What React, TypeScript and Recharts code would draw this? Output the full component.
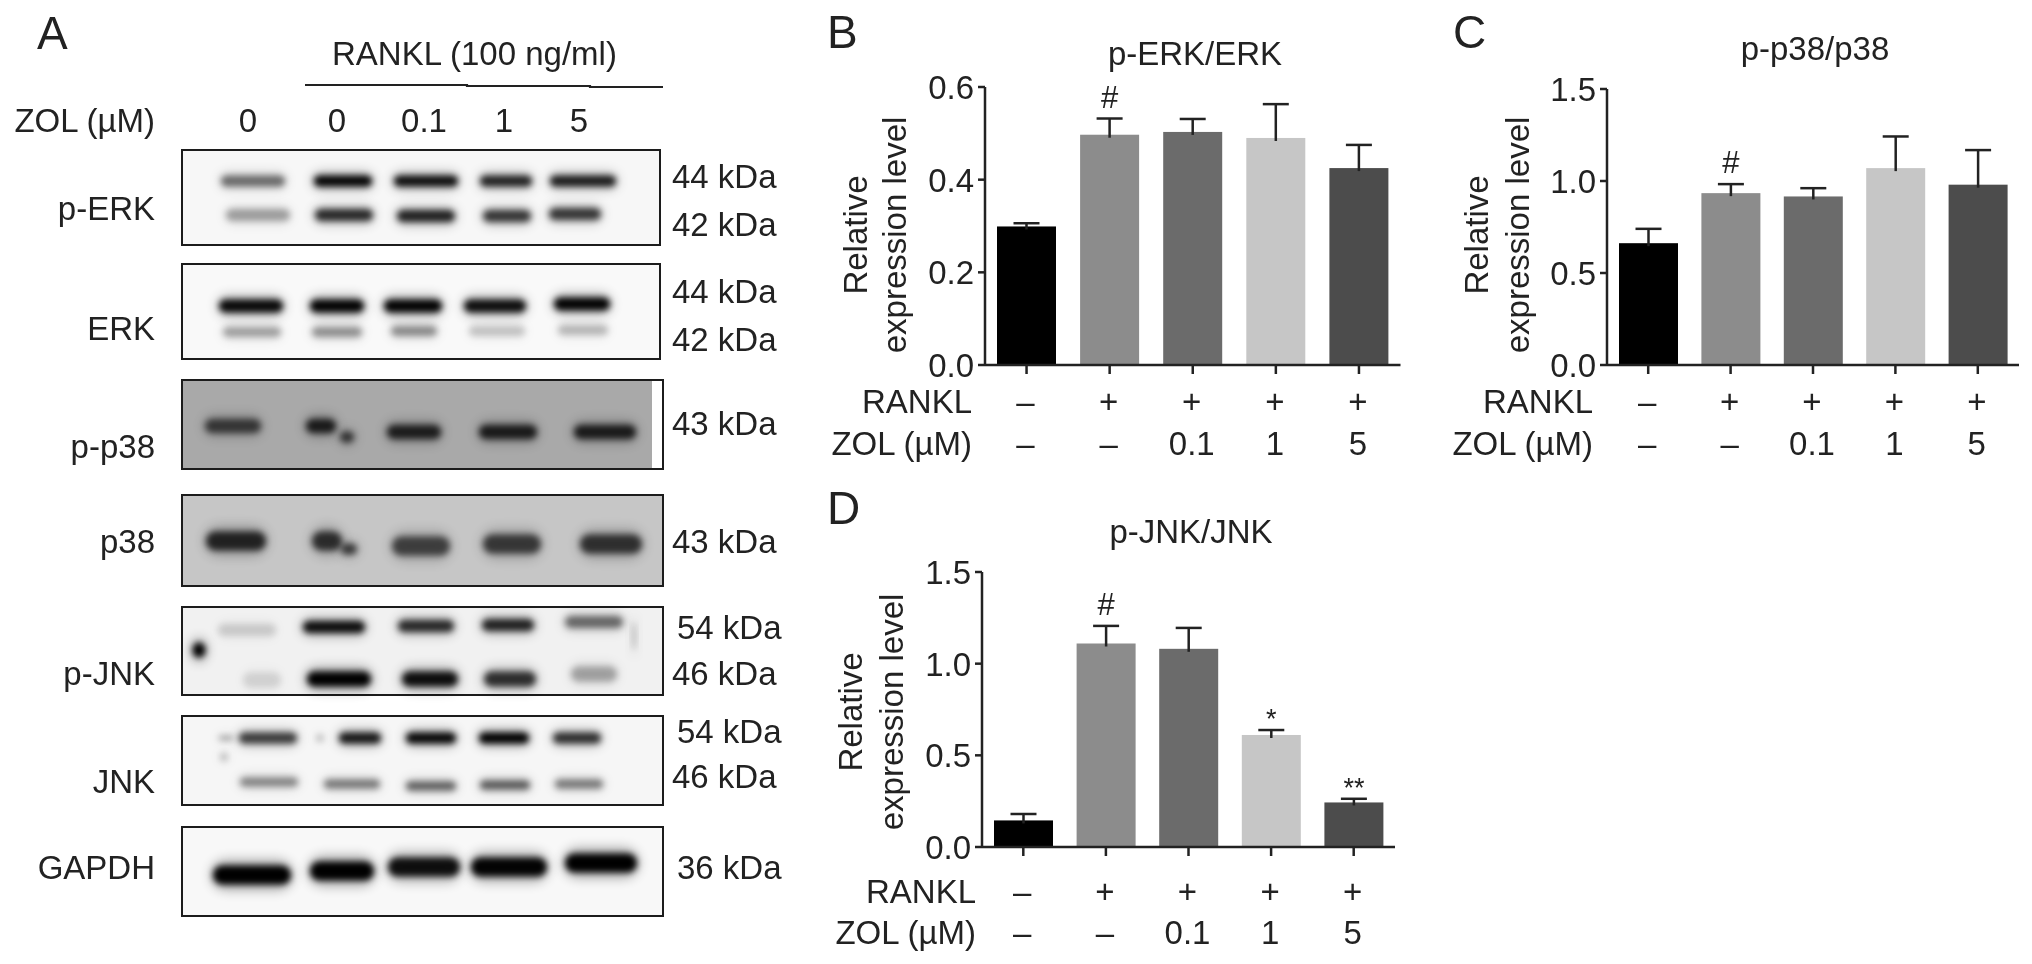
import { BarChart, Bar, XAxis, YAxis, ScatterChart, Scatter } from 'recharts';

const FONT = '"Liberation Sans", Arial, sans-serif';
const INK = '#222222';

// bar charts
const groups = ['Control', 'RANKL', 'ZOL 0.1', 'ZOL 1', 'ZOL 5'];
const ranklRow = ['–', '+', '+', '+', '+'];
const zolRow = ['–', '–', '0.1', '1', '5'];
const barColors = ['#000000', '#8c8c8c', '#6b6b6b', '#c6c6c6', '#4c4c4c'];

const erkMeans = [0.299, 0.497, 0.503, 0.49, 0.425];
const erkErrors = [0.007, 0.035, 0.028, 0.073, 0.05];
const erkMarks = ['', '#', '', '', ''];
const erkTicks = [0, 0.2, 0.4, 0.6];

const p38Means = [0.662, 0.934, 0.916, 1.07, 0.98];
const p38Errors = [0.078, 0.049, 0.045, 0.172, 0.188];
const p38Marks = ['', '#', '', '', ''];
const p38Ticks = [0, 0.5, 1, 1.5];

const jnkMeans = [0.145, 1.11, 1.081, 0.611, 0.243];
const jnkErrors = [0.035, 0.096, 0.114, 0.027, 0.02];
const jnkMarks = ['', '#', '', '*', '**'];
const jnkTicks = [0, 0.5, 1, 1.5];

// blot band densities, one per lane
const pErk44 = [0.5, 0.98, 0.92, 0.82, 0.85];
const pErk42 = [0.3, 0.78, 0.82, 0.72, 0.72];
const erk44 = [0.95, 0.98, 0.98, 0.92, 0.98];
const erk42 = [0.3, 0.36, 0.38, 0.18, 0.22];
const pP38 = [0.62, 0.8, 0.78, 0.8, 0.8];
const p38 = [0.78, 0.72, 0.62, 0.66, 0.7];
const pJnk54 = [0.13, 0.92, 0.78, 0.82, 0.5];
const pJnk46 = [0.1, 1, 0.92, 0.76, 0.28];
const jnk54 = [0.7, 0.88, 0.96, 1, 0.76];
const jnk46 = [0.4, 0.45, 0.55, 0.58, 0.45];
const gapdh = [1, 1, 0.92, 0.98, 1];

const bandRows = [
  { values: pErk44, xs: [253, 343, 426, 506, 583], ys: [181, 181, 181, 181, 181], ws: [64, 58, 64, 52, 66], h: 11 },
  { values: pErk42, xs: [258, 344, 426, 507, 575], ys: [215, 215, 216, 216, 214], ws: [64, 58, 58, 48, 52], h: 12 },
  { values: erk44, xs: [251, 337, 413, 495, 582], ys: [306, 306, 306, 306, 304], ws: [64, 54, 58, 62, 56], h: 13 },
  { values: erk42, xs: [252, 337, 414, 497, 583], ys: [332, 332, 331, 331, 330], ws: [58, 50, 46, 56, 50], h: 10 },
  { values: pP38, xs: [233, 321, 414, 508, 605], ys: [426, 426, 432, 432, 432], ws: [56, 30, 54, 58, 62], h: 14 },
  { values: p38, xs: [236, 327, 421, 512, 611], ys: [541, 541, 546, 544, 544], ws: [60, 30, 58, 58, 62], h: 19 },
  { values: pJnk54, xs: [247, 334, 426, 508, 594], ys: [630, 627, 626, 625, 622], ws: [58, 62, 56, 52, 58], h: 12 },
  { values: pJnk46, xs: [262, 339, 430, 510, 594], ys: [680, 679, 679, 679, 674], ws: [38, 64, 56, 52, 46], h: 15 },
  { values: jnk54, xs: [268, 360, 431, 504, 577], ys: [738, 738, 738, 738, 738], ws: [58, 42, 50, 50, 48], h: 11 },
  { values: jnk46, xs: [269, 352, 431, 505, 579], ys: [782, 784, 786, 785, 784], ws: [58, 56, 50, 50, 48], h: 9 },
  { values: gapdh, xs: [252, 342, 424, 509, 601], ys: [875, 871, 867, 867, 863], ws: [78, 64, 72, 76, 72], h: 19 },
];

// smaller spots beside the main bands
const extraSpots = [
  { x: 347, y: 437, w: 14, h: 11, d: 0.65 },
  { x: 349, y: 549, w: 16, h: 11, d: 0.65 },
  { x: 199, y: 650, w: 13, h: 15, d: 1 },
  { x: 634, y: 636, w: 4, h: 28, d: 0.2 },
  { x: 320, y: 738, w: 7, h: 7, d: 0.22 },
  { x: 224, y: 757, w: 7, h: 8, d: 0.22 },
  { x: 226, y: 738, w: 14, h: 4, d: 0.35 },
];

const blotBands = [
  ...bandRows.flatMap((r) =>
    r.values.map((d, i) => ({ x: r.xs[i], y: r.ys[i], w: r.ws[i], h: r.h, d })),
  ),
  ...extraSpots,
];

const blotFrames = [
  { top: 149, h: 97, w: 480, bg: '#f7f7f7' },
  { top: 263, h: 97, w: 480, bg: '#f9f9f9' },
  { top: 379, h: 91, w: 483, bg: 'linear-gradient(to right, #a9a9a9 0 98%, #ffffff 98% 100%)' },
  { top: 494, h: 93, w: 483, bg: '#c6c6c6' },
  { top: 606, h: 90, w: 483, bg: '#f1f1f1' },
  { top: 715, h: 91, w: 483, bg: '#f6f6f6' },
  { top: 826, h: 91, w: 483, bg: '#f8f8f8' },
];

const pageTexts = [
  { t: 'A', x: 37, y: 49, s: 46 },
  { t: 'B', x: 827, y: 48, s: 46 },
  { t: 'C', x: 1453, y: 48, s: 46 },
  { t: 'D', x: 827, y: 524, s: 46 },
  { t: 'RANKL (100 ng/ml)', x: 332, y: 65 },
  { t: 'ZOL (µM)', x: 155, y: 132, a: 'end' },
  { t: '0', x: 248, y: 132, a: 'middle' },
  { t: '0', x: 337, y: 132, a: 'middle' },
  { t: '0.1', x: 424, y: 132, a: 'middle' },
  { t: '1', x: 504, y: 132, a: 'middle' },
  { t: '5', x: 579, y: 132, a: 'middle' },
  { t: 'p-ERK', x: 155, y: 220, a: 'end' },
  { t: 'ERK', x: 155, y: 340, a: 'end' },
  { t: 'p-p38', x: 155, y: 458, a: 'end' },
  { t: 'p38', x: 155, y: 553, a: 'end' },
  { t: 'p-JNK', x: 155, y: 685, a: 'end' },
  { t: 'JNK', x: 155, y: 793, a: 'end' },
  { t: 'GAPDH', x: 155, y: 879, a: 'end' },
  { t: '44 kDa', x: 672, y: 188 },
  { t: '42 kDa', x: 672, y: 236 },
  { t: '44 kDa', x: 672, y: 303 },
  { t: '42 kDa', x: 672, y: 351 },
  { t: '43 kDa', x: 672, y: 435 },
  { t: '43 kDa', x: 672, y: 553 },
  { t: '54 kDa', x: 677, y: 639 },
  { t: '46 kDa', x: 672, y: 685 },
  { t: '54 kDa', x: 677, y: 743 },
  { t: '46 kDa', x: 672, y: 788 },
  { t: '36 kDa', x: 677, y: 879 },
];

function BandShape({ cx, cy, payload }: any) {
  const { w, h, d } = payload;
  return (
    <g>
      <rect
        x={cx - w / 2 - 2}
        y={cy - h * 0.8}
        width={w + 4}
        height={h * 1.6}
        rx={h * 0.8}
        fill="#000"
        opacity={d * 0.3}
        filter="url(#haloBlur)"
      />
      <rect
        x={cx - w / 2}
        y={cy - h / 2}
        width={w}
        height={h}
        rx={h / 2}
        fill="#000"
        opacity={d}
        filter="url(#bandBlur)"
      />
    </g>
  );
}

function BlotPanel() {
  return (
    <>
      {blotFrames.map((f, i) => (
        <div
          key={i}
          style={{
            position: 'absolute',
            left: 181,
            top: f.top,
            width: f.w,
            height: f.h,
            boxSizing: 'border-box',
            border: '2.5px solid #1c1c1c',
            background: f.bg,
          }}
        />
      ))}
      <div style={{ position: 'absolute', left: 0, top: 0 }}>
        <ScatterChart width={800} height={964} margin={{ top: 0, right: 0, bottom: 0, left: 0 }}>
          <XAxis type="number" dataKey="x" domain={[0, 800]} hide />
          <YAxis type="number" dataKey="y" domain={[0, 964]} reversed hide />
          <Scatter data={blotBands} shape={BandShape} isAnimationActive={false} />
        </ScatterChart>
      </div>
    </>
  );
}

function BarWithWhisker({ x, y, width, height, payload, index }: any) {
  const unit = height / payload.mean;
  const tipY = y - payload.err * unit;
  const mid = x + width / 2;
  const mark = payload.mark;
  return (
    <g>
      <rect x={x} y={y} width={width} height={height} fill={barColors[index]} />
      <line x1={mid} x2={mid} y1={y + 3} y2={tipY} stroke={INK} strokeWidth={2.5} />
      <line x1={mid - 13} x2={mid + 13} y1={tipY} y2={tipY} stroke={INK} strokeWidth={2.5} />
      {mark && (
        <text
          x={mid}
          y={tipY - (mark === '#' ? 11 : 2)}
          textAnchor="middle"
          fontSize={mark === '#' ? 31 : 27}
          fontFamily={FONT}
          fill={INK}
        >
          {mark}
        </text>
      )}
    </g>
  );
}

function ValueTick({ x, y, payload, digits }: any) {
  return (
    <text x={x} y={y + 12} textAnchor="end" fontSize={33} fontFamily={FONT} fill={INK}>
      {payload.value.toFixed(digits)}
    </text>
  );
}

function GroupTick({ x, y, payload, row1, row2 }: any) {
  const i = payload.index;
  return (
    <g fontSize={33} fontFamily={FONT} fill={INK} textAnchor="middle">
      <text x={x - 1} y={y + row1}>{ranklRow[i]}</text>
      <text x={x - 1} y={y + row2}>{zolRow[i]}</text>
    </g>
  );
}

interface BarPanelProps {
  means: number[];
  errors: number[];
  marks: string[];
  ticks: number[];
  plot: { left: number; right: number; top: number; bottom: number };
  title: string;
  titleX: number;
  titleY: number;
  labelX: [number, number];
  labelY: number;
  rowNameX: number;
  rowY: [number, number];
}

function BarPanel({
  means,
  errors,
  marks,
  ticks,
  plot,
  title,
  titleX,
  titleY,
  labelX,
  labelY,
  rowNameX,
  rowY,
}: BarPanelProps) {
  const rows = groups.map((name, i) => ({ name, mean: means[i], err: errors[i], mark: marks[i] }));
  const padLeft = 130;
  const padTop = 20;
  const padBottom = 110;
  const padRight = 12;
  const tickEnd = plot.bottom + 9;
  return (
    <>
      <div style={{ position: 'absolute', left: plot.left - padLeft, top: plot.top - padTop }}>
        <BarChart
          width={plot.right - plot.left + padLeft + padRight}
          height={plot.bottom - plot.top + padTop + padBottom}
          data={rows}
          margin={{ top: padTop, right: padRight, left: padLeft - 60, bottom: padBottom - 100 }}
        >
          <XAxis
            dataKey="name"
            height={100}
            interval={0}
            tickSize={9}
            tickMargin={0}
            axisLine={{ stroke: INK, strokeWidth: 2.5 }}
            tickLine={{ stroke: INK, strokeWidth: 2.5 }}
            tick={<GroupTick row1={rowY[0] - tickEnd} row2={rowY[1] - tickEnd} />}
          />
          <YAxis
            width={60}
            domain={[0, ticks[ticks.length - 1]]}
            ticks={ticks}
            tickSize={7}
            tickMargin={4}
            axisLine={{ stroke: INK, strokeWidth: 2.5 }}
            tickLine={{ stroke: INK, strokeWidth: 2.5 }}
            tick={<ValueTick digits={1} />}
          />
          <Bar dataKey="mean" barSize={59} shape={BarWithWhisker} isAnimationActive={false} />
        </BarChart>
      </div>
      <svg
        width={2032}
        height={964}
        style={{ position: 'absolute', left: 0, top: 0, pointerEvents: 'none' }}
        fontFamily={FONT}
        fontSize={33}
        fill={INK}
      >
        <text x={titleX} y={titleY} textAnchor="middle">{title}</text>
        <text transform={`translate(${labelX[0]},${labelY}) rotate(-90)`} textAnchor="middle">Relative</text>
        <text transform={`translate(${labelX[1]},${labelY}) rotate(-90)`} textAnchor="middle">expression level</text>
        <text x={rowNameX} y={rowY[0]} textAnchor="end">RANKL</text>
        <text x={rowNameX} y={rowY[1]} textAnchor="end">ZOL (µM)</text>
      </svg>
    </>
  );
}

export default function App() {
  return (
    <div
      style={{
        position: 'absolute',
        left: 0,
        top: 0,
        width: 2032,
        height: 964,
        background: '#fff',
        overflow: 'hidden',
        filter: 'blur(0.6px)',
      }}
    >
      <svg width={0} height={0} style={{ position: 'absolute' }}>
        <defs>
          <filter id="bandBlur" x="-60%" y="-150%" width="220%" height="400%">
            <feGaussianBlur stdDeviation="3.2" />
          </filter>
          <filter id="haloBlur" x="-60%" y="-150%" width="220%" height="400%">
            <feGaussianBlur stdDeviation="6" />
          </filter>
        </defs>
      </svg>

      <BlotPanel />

      <svg
        width={2032}
        height={964}
        style={{ position: 'absolute', left: 0, top: 0, pointerEvents: 'none' }}
        fontFamily={FONT}
        fill={INK}
      >
        {pageTexts.map((p, i) => (
          <text key={i} x={p.x} y={p.y} fontSize={p.s ?? 33} textAnchor={p.a ?? 'start'}>
            {p.t}
          </text>
        ))}
        <polyline
          points="305,85 467,85 467,86 590,86 590,87 663,87"
          fill="none"
          stroke={INK}
          strokeWidth={2.2}
        />
      </svg>

      <BarPanel
        means={erkMeans}
        errors={erkErrors}
        marks={erkMarks}
        ticks={erkTicks}
        plot={{ left: 984.5, right: 1400, top: 87, bottom: 365 }}
        title="p-ERK/ERK"
        titleX={1195}
        titleY={65}
        labelX={[867, 906]}
        labelY={235}
        rowNameX={972}
        rowY={[413, 455]}
      />
      <BarPanel
        means={p38Means}
        errors={p38Errors}
        marks={p38Marks}
        ticks={p38Ticks}
        plot={{ left: 1607, right: 2019, top: 89, bottom: 365 }}
        title="p-p38/p38"
        titleX={1815}
        titleY={60}
        labelX={[1488, 1529]}
        labelY={235}
        rowNameX={1593}
        rowY={[413, 455]}
      />
      <BarPanel
        means={jnkMeans}
        errors={jnkErrors}
        marks={jnkMarks}
        ticks={jnkTicks}
        plot={{ left: 982, right: 1395, top: 572, bottom: 847 }}
        title="p-JNK/JNK"
        titleX={1191}
        titleY={543}
        labelX={[862, 903]}
        labelY={712}
        rowNameX={976}
        rowY={[903, 944]}
      />
    </div>
  );
}
